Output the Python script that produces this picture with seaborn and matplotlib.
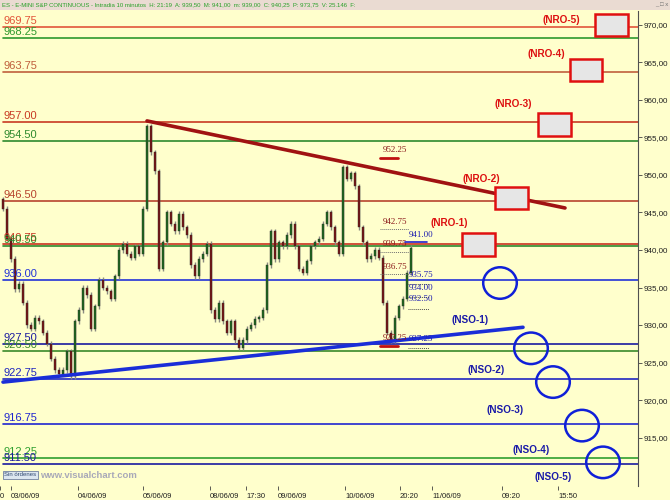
import numpy as np
import pandas as pd
import seaborn as sns
import matplotlib.pyplot as plt
from matplotlib.patches import Rectangle, Ellipse

# 10-minute closes, ES e-mini, 02/06 late -> 10/06 20:20
closes = [945.5, 941.5, 938.8, 934.8, 935.5, 933.0, 930.0, 929.5, 931.0, 930.5,
          929.0, 927.5, 925.5, 924.0, 923.5, 924.0, 926.5, 923.2, 930.5, 932.0,
          935.0, 934.0, 929.5, 932.5, 936.0, 935.0, 934.5, 933.5, 936.5, 940.0,
          940.8, 939.5, 939.0, 940.5, 939.5, 945.5, 956.5, 953.0, 950.5, 937.5,
          941.0, 945.0, 943.5, 942.5, 944.8, 943.0, 942.0, 938.0, 936.5, 938.8,
          939.5, 940.8, 932.0, 930.8, 933.0, 930.5, 929.0, 930.5, 928.0, 927.0,
          928.0, 929.5, 930.0, 930.8, 931.0, 932.0, 938.0, 942.5, 938.8, 941.0,
          940.5, 942.0, 943.5, 940.5, 937.5, 937.0, 938.5, 940.5, 941.0, 941.5,
          943.5, 945.0, 943.0, 941.0, 939.5, 951.0, 949.5, 950.2, 948.5, 943.0,
          941.0, 938.8, 939.2, 940.0, 939.0, 933.0, 929.0, 928.0, 931.0, 932.5,
          933.5, 937.0, 940.25]
first_open = 946.75

# horizontal levels (price, label, colour)
level_prices = [969.75, 968.25, 963.75, 957.00, 954.50, 946.50, 940.75, 940.50,
                936.00, 927.50, 926.50, 922.75, 916.75, 912.25, 911.50]
level_colors = ["#e2553a", "#2e9a2e", "#c0603c", "#c83a22", "#2e8a2e", "#b8442e",
                "#c8321e", "#2e8a2e", "#2233d8", "#1a1aa0", "#3a8a2a", "#2026c0",
                "#2026d0", "#30a030", "#1a1aa0"]

# trend lines (bar index, price)
res_x, res_y = [36, 140.5], [957.2, 945.6]
sup_x, sup_y = [0, 130], [922.4, 929.7]

# NRO boxes / NSO circles
nro_labels = ["(NRO-1)", "(NRO-2)", "(NRO-3)", "(NRO-4)", "(NRO-5)"]
nro_x = [118.9, 127.1, 137.9, 145.75, 152.1]
nro_y = [940.7, 946.9, 956.75, 964.0, 970.0]
nro_lx = [111.5, 119.5, 127.5, 135.75, 139.5]
nro_ly = [943.6, 949.5, 959.5, 966.1, 970.7]

nso_labels = ["(NSO-1)", "(NSO-2)", "(NSO-3)", "(NSO-4)", "(NSO-5)"]
nso_x = [124.25, 132.0, 137.5, 144.75, 150.0]
nso_y = [935.6, 926.9, 922.4, 916.6, 911.7]
nso_lx = [116.75, 120.75, 125.5, 132.0, 137.5]
nso_ly = [930.7, 924.0, 918.7, 913.3, 909.7]

# small price notes near the last bars
red_notes = [952.25, 942.75, 939.75, 936.75, 927.25]
blue_notes = [941.00, 935.75, 934.00, 932.50, 927.25]

right_ticks = [915, 920, 925, 930, 935, 940, 945, 950, 955, 960, 965, 970]
date_pos = [-0.75, 2, 18.75, 35, 51.75, 60.75, 68.75, 85.5, 99.25, 107.25, 124.75, 138.75]
date_labels = ["0", "03/06/09", "04/06/09", "05/06/09", "08/06/09", "17:30",
               "09/06/09", "10/06/09", "20:20", "11/06/09", "09:20", "15:50"]

sns.set_theme(style="white")
plt.rcParams["font.family"] = ["Liberation Sans", "DejaVu Sans"]
bg = "#ffffcc"

fig = plt.figure(figsize=(6.7, 5), dpi=100)
fig.patch.set_facecolor(bg)
ax = fig.add_axes([0, 14 / 500, 638 / 670, 475 / 500])
ax.set_facecolor(bg)

df = pd.DataFrame({"bar": np.arange(len(closes)), "close": closes})
df["open"] = [first_open] + closes[:-1]
df["lo"] = df[["open", "close"]].min(axis=1)
df["hi"] = df[["open", "close"]].max(axis=1)

# levels
for p, c in zip(level_prices, level_colors):
    ax.axhline(p, xmin=0.005, xmax=1, color=c, lw=1.2, zorder=1)
    ax.text(0, p + 0.15, f"{p:.2f}", color=c, fontsize=8, va="bottom", ha="left", zorder=5)

# candles
ax.vlines(df["bar"], df["lo"] - 0.35, df["hi"] + 0.35, color="#8a8a80", lw=1.0, zorder=2)
up = df["close"] >= df["open"]
ax.bar(df["bar"][up], (df["hi"] - df["lo"])[up].clip(lower=0.3), bottom=df["lo"][up],
       width=0.7, color="#1e6a1e", edgecolor="#2a2a2a", lw=0.3, zorder=3)
ax.bar(df["bar"][~up], (df["hi"] - df["lo"])[~up].clip(lower=0.3), bottom=df["lo"][~up],
       width=0.7, color="#7a1414", edgecolor="#2a2a2a", lw=0.3, zorder=3)

# trend lines
sns.lineplot(x=res_x, y=res_y, ax=ax, color="#a01212", lw=2.6, zorder=4)
sns.lineplot(x=sup_x, y=sup_y, ax=ax, color="#1a2ed8", lw=2.6, zorder=4)

# notes
for i, p in enumerate(red_notes):
    ax.text(95, p + 0.5, f"{p:.2f}", color="#8b1a1a", fontsize=6.5, family="Liberation Serif",
            ha="left", va="bottom", zorder=6)
    if i in (0, 4):
        ax.plot([94.25, 98.75], [p, p], color="#c01010", lw=2, zorder=6)
    else:
        ax.plot([94.25, 101.5], [p, p], color="#707070", lw=0.7, ls=(0, (1, 1)), zorder=6)
for i, p in enumerate(blue_notes):
    ax.text(101.5, p + 0.4, f"{p:.2f}", color="#2020b0", fontsize=6.5, family="Liberation Serif",
            ha="left", va="bottom", zorder=6)
    if i == 0:
        ax.plot([100.5, 106], [p, p], color="#2020d0", lw=1.2, zorder=6)
    else:
        ax.plot([101.25, 106.5], [p - 0.3, p - 0.3], color="#505050", lw=0.7, ls=(0, (1, 1)), zorder=6)

# NRO boxes
for lab, x, y, lx, ly in zip(nro_labels, nro_x, nro_y, nro_lx, nro_ly):
    ax.add_patch(Rectangle((x - 4.1, y - 1.5), 8.2, 3.0, facecolor="#e6e6e6",
                           edgecolor="#e01010", lw=1.8, zorder=7))
    ax.text(lx, ly, lab, color="#dd1111", fontsize=7.2, fontweight="bold",
            ha="center", va="center", zorder=7)

# NSO circles
for lab, x, y, lx, ly in zip(nso_labels, nso_x, nso_y, nso_lx, nso_ly):
    ax.add_patch(Ellipse((x, y), 8.4, 4.2, facecolor="none", edgecolor="#1020d8", lw=1.8, zorder=7))
    ax.text(lx, ly, lab, color="#1a1aa8", fontsize=7.2, fontweight="bold",
            ha="center", va="center", zorder=7)

ax.set_xlim(-0.75, 158.75)
ax.set_ylim(908.55, 971.85)
ax.yaxis.tick_right()
ax.set_yticks(right_ticks, [f"{t},00" for t in right_ticks])
ax.set_xticks(date_pos, date_labels)
ax.tick_params(axis="y", direction="out", length=3, width=0.6, color="#404040",
               labelsize=5.8, pad=1, labelcolor="#202020", right=True, left=False)
ax.tick_params(axis="x", direction="out", length=3, width=0.6, color="#404040",
               labelsize=5.5, pad=2, labelcolor="#202020", bottom=True)
for t in ax.get_xticklabels():
    t.set_ha("left")
for s in ["top", "left", "bottom"]:
    ax.spines[s].set_visible(False)
ax.spines["right"].set_color("#505050")
ax.spines["right"].set_linewidth(0.8)
ax.set_xlabel("")
ax.set_ylabel("")

# header bar and footer
fig.add_artist(Rectangle((0, 490 / 500), 1, 10 / 500, transform=fig.transFigure,
                         facecolor="#eadbd2", edgecolor="none"))
fig.text(2 / 670, 495 / 500, "ES - E-MINI S&P CONTINUOUS - Intradia 10 minutos  H: 21:19  A: 939,50  "
         "M: 941,00  m: 939,00  C: 940,25  P: 973,75  V: 25.146  F:",
         color="#28a028", fontsize=4.3, va="center", ha="left")
fig.text(662 / 670, 495 / 500, "_ □ x", color="#707070", fontsize=4.3, va="center", ha="center")
fig.text(4 / 670, 25 / 500, "Sin órdenes", color="#304870", fontsize=4.3, va="center", ha="left",
         bbox=dict(boxstyle="square,pad=0.25", facecolor="#dce6f0", edgecolor="#7080a0", lw=0.6))
fig.text(40 / 670, 25 / 500, "www.visualchart.com", color="#a8a8b8", fontsize=6.8,
         fontweight="bold", va="center", ha="left")

fig.savefig("out.png", dpi=100, facecolor=bg)
